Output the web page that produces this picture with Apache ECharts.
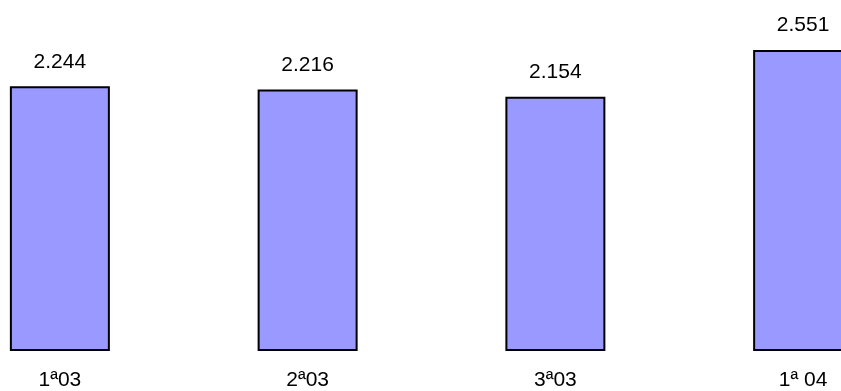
<!DOCTYPE html>
<html>
<head>
<meta charset="utf-8">
<script src="https://cdn.jsdelivr.net/npm/echarts@6/dist/echarts.min.js"></script>
<style>
html,body{margin:0;padding:0;background:#fff;overflow:hidden;width:841px;height:391px;position:relative;}
#c{position:absolute;left:-64px;top:-3px;width:991px;height:394px;}
</style>
</head>
<body>
<div id="c"></div>
<script>
const categories = ['1ª03', '2ª03', '3ª03', '1ª 04'];
const values = [2.244, 2.216, 2.154, 2.551];

const chart = echarts.init(document.getElementById('c'), null, {renderer: 'canvas'});
chart.setOption({
  animation: false,
  grid: {left: 0, right: 0, top: 0, bottom: 40, containLabel: false},
  xAxis: {
    type: 'category',
    data: categories,
    axisLine: {show: false},
    axisTick: {show: false},
    axisLabel: {margin: 19, fontSize: 21, color: '#000', fontFamily: 'Liberation Sans, Arial, sans-serif'}
  },
  yAxis: {
    type: 'value', min: 0, max: 3,
    show: false,
    splitLine: {show: false}
  },
  series: [{
    type: 'bar',
    data: values,
    barWidth: 100,
    itemStyle: {color: '#9999FF', borderColor: '#000', borderWidth: 2},
    label: {
      show: true, position: 'top', distance: 14,
      fontSize: 21, color: '#000', fontFamily: 'Liberation Sans, Arial, sans-serif',
      formatter: p => p.value.toFixed(3)
    }
  }]
});
</script>
</body>
</html>
